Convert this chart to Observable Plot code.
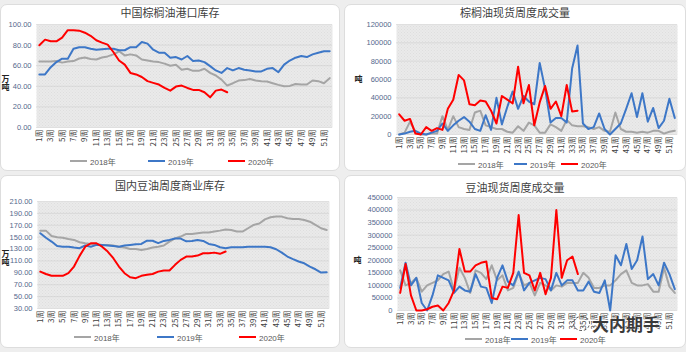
<!DOCTYPE html>
<html><head><meta charset="utf-8">
<script src="https://cdn.jsdelivr.net/npm/d3@7"></script>
<script src="https://cdn.jsdelivr.net/npm/@observablehq/plot@0.6"></script>
<style>
html,body{margin:0;padding:0;}
body{background:#eeeeee;width:686px;height:352px;overflow:hidden;position:relative;font-family:"Liberation Sans","Noto Sans CJK SC",sans-serif;}
.card{position:absolute;background:#fff;border:1px solid #dddddd;border-radius:7px;box-sizing:border-box;}
.title{position:absolute;font-family:"Noto Sans CJK SC",sans-serif;font-size:11px;color:#404040;transform:translate(-50%,-50%);white-space:nowrap;}
.unit{position:absolute;font-family:"Noto Sans CJK SC",sans-serif;font-size:8px;font-weight:bold;color:#222;line-height:8px;writing-mode:vertical-rl;text-orientation:upright;}
.leg{position:absolute;font-size:8px;color:#595959;white-space:nowrap;transform:translateY(-50%);font-family:"Liberation Sans","Noto Sans CJK SC",sans-serif;}
.sw{position:absolute;height:2px;transform:translateY(-50%);}
svg.chart{position:absolute;overflow:visible;}
.wm{position:absolute;left:592px;top:311px;font-family:"Noto Sans CJK SC",sans-serif;font-weight:bold;font-size:17px;color:#3a3a3a;text-shadow:0 0 2px #fff,0 0 2px #fff;}
.wmicon{position:absolute;left:573px;top:316px;width:15px;height:13px;border:1.5px dashed #555;border-radius:50%;}
</style></head><body>
<script>
// ---------- data ----------
const weekTicks = d3.range(1, 52, 2);
const seriesNames = ["2018年", "2019年", "2020年"];
const seriesColors = ["#a5a5a5", "#3d77c7", "#ff0000"];

const titles = ["中国棕榈油港口库存", "棕榈油现货周度成交量", "国内豆油周度商业库存", "豆油现货周度成交量"];

// 中国棕榈油港口库存 (万吨)
const palmStock2018 = [64,64,64,64.5,63,64,64.5,67,68,66.5,66,68,69,71,74,70,71,70,66,65,64,63.5,62,60,61,56,57,55,55,57,53,50.5,46.5,40.7,43,45.6,46,47,45.6,45,44.6,43,41.4,40,40.4,42.3,41.7,41.7,45.6,45,43,47.9];
const palmStock2019 = [51.5,51.5,58.6,63.5,66.8,66.8,76.5,78,78,76.5,75.5,76,76.5,76.5,75,75,78,78,83,81.4,75.5,72.6,72.6,67.8,68.4,66,69.4,64.5,65,63.5,59.6,55.4,53,57.7,55.4,57.7,56,55.4,54.4,54.4,57,57.7,53.7,61,65,67.8,69.4,68.4,71,72.6,74,74];
const palmStock2020 = [79.8,85.3,83.7,83.7,87.3,94.5,94.5,94,92,89,84.7,82.4,80.5,73.3,65,61,53,51.5,49,45,43.3,41.7,38.4,35.8,39.7,40.7,38.4,36.5,36.5,34.2,29.3,35.8,36.8,34.2];
const palmStockTicks = [0,20,40,60,80,100];

// 棕榈油现货周度成交量 (吨)
const palmVol2018 = [0,2000,14000,3000,0,0,1000,1000,20000,5000,20000,8000,6000,5000,24000,26000,10000,8000,6000,6000,3000,2000,9000,4000,13000,10000,2000,2000,11000,8000,4000,16000,10000,9000,9000,8000,6000,8000,4000,3000,24000,6000,3000,3000,2000,3000,2000,4000,4000,1000,3000,4000];
const palmVol2019 = [0,1000,3000,4000,1000,0,2000,4000,12000,4000,10000,15000,19000,14000,6000,4000,21000,5000,40000,11000,30000,47000,28000,42000,36000,33000,78000,50000,13000,18000,18000,13000,72000,97000,12000,6000,8000,23000,6000,0,6000,12000,28000,45000,19000,45000,14000,29000,7000,15000,39000,18000];
const palmVol2020 = [22000,15000,17000,1000,0,8000,4000,7000,5000,28000,38000,65000,59000,33000,32000,37000,36000,26000,12000,42000,38000,34000,74000,34000,54000,10000,35000,53000,28000,36000,20000,54000,25000,26000];
const palmVolTicks = [0,20000,40000,60000,80000,100000,120000];

// 国内豆油周度商业库存 (万吨)
const soyStock2018 = [161,161,152,150,149,147,145.4,141.4,139.8,138.6,138.6,137,137,136,134,132.5,130,130,128.6,130,132.5,134,136,142.6,148,151,155.4,155.4,156.6,157.7,157.7,159.4,161,163,162,159.4,159.4,165,170.6,173,180,183.4,184.6,184.6,181.8,180.6,180.6,179,176,170.6,165,162];
const soyStock2019 = [156.6,149,142.6,135,134,134,132.5,131.4,136,134,137,137,136,135,134,136,137,138,138.6,144,144,140,143.7,145.4,147.6,147.6,143,143.7,145.4,143.7,138.6,137,133,131.4,133,133,133,134,134,134,134,133,129.7,124,117.4,113,109,106,100.6,96,90.5,91];
const soyStock2020 = [92,88,85,85,85,89.4,100.6,118.5,134,139.8,139.8,134,125.8,114.6,100.6,89.4,82.6,81,85,86.6,88,92,94,94,103.4,111.8,117.4,117.4,119,123,123,124,122,125.8];
const soyStockTicks = [30,50,70,90,110,130,150,170,190,210];

// 豆油现货周度成交量 (吨)
const soyVol2018 = [160000,100000,110000,130000,75000,100000,110000,120000,145000,155000,80000,170000,130000,70000,160000,150000,125000,180000,120000,140000,80000,90000,150000,100000,110000,60000,110000,100000,80000,100000,95000,110000,110000,110000,150000,130000,90000,90000,100000,100000,120000,145000,160000,110000,100000,100000,105000,75000,75000,170000,95000,70000];
const soyVol2019 = [90000,190000,100000,130000,30000,0,60000,140000,130000,120000,70000,95000,80000,75000,145000,95000,90000,30000,130000,180000,115000,100000,155000,80000,110000,120000,130000,125000,80000,150000,100000,120000,120000,80000,80000,115000,75000,70000,120000,0,220000,180000,265000,165000,200000,295000,125000,145000,100000,190000,145000,85000];
const soyVol2020 = [70000,185000,60000,0,0,5000,15000,20000,0,30000,80000,245000,155000,155000,180000,190000,195000,50000,45000,95000,90000,150000,380000,150000,140000,80000,150000,65000,130000,400000,130000,200000,215000,145000];
const soyVolTicks = [0,50000,100000,150000,200000,250000,300000,350000,400000,450000];

// ---------- layout ----------
const panels = [
  {id:"h1", title:titles[0], card:{x:0,y:4,w:340,h:167}, plot:{left:36,right:332,top:24,bottom:127}, titleY:12,
   unit:"万吨", unitX:1, unitY:75, yDomain:[0,100], yTicks:palmStockTicks, yFmt:d=>d.toFixed(2),
   data:[palmStock2018,palmStock2019,palmStock2020], legendY:161, legend:[[70,90],[148,168],[228,248]]},
  {id:"h2", title:titles[1], card:{x:344,y:4,w:342,h:167}, plot:{left:396,right:677,top:24,bottom:134}, titleY:12,
   unit:"吨", unitX:354, unitY:75, yDomain:[0,120000], yTicks:palmVolTicks, yFmt:d=>String(d),
   data:[palmVol2018,palmVol2019,palmVol2020], legendY:164, legend:[[458,478],[514,530],[561,581]]},
  {id:"h3", title:titles[2], card:{x:0,y:175,w:340,h:173}, plot:{left:37,right:329,top:201,bottom:308}, titleY:185,
   unit:"万吨", unitX:1, unitY:250, yDomain:[30,210], yTicks:soyStockTicks, yFmt:d=>d.toFixed(2),
   data:[soyStock2018,soyStock2019,soyStock2020], legendY:337, legend:[[74,94],[157,177],[239,259]]},
  {id:"h4", title:titles[3], card:{x:344,y:175,w:342,h:173}, plot:{left:397,right:677,top:197,bottom:310}, titleY:187,
   unit:"吨", unitX:353, unitY:256, yDomain:[0,450000], yTicks:soyVolTicks, yFmt:d=>String(d),
   data:[soyVol2018,soyVol2019,soyVol2020], legendY:339, legend:[[465,485],[511,531],[560,580]]}
];

function el(cls, style, text) {
  const e = document.createElement("div");
  e.className = cls;
  Object.assign(e.style, style);
  if (text != null) e.textContent = text;
  document.body.appendChild(e);
  return e;
}

for (const p of panels) {
  el("card", {left:p.card.x+"px", top:p.card.y+"px", width:p.card.w+"px", height:p.card.h+"px"});
}

for (const p of panels) {
  const mt = 10, mb = 26;
  const svgTop = p.plot.top - mt;
  const height = p.plot.bottom + mb - svgTop;
  const chart = Plot.plot({
    width: p.card.w,
    height,
    marginLeft: p.plot.left - p.card.x,
    marginRight: p.card.x + p.card.w - p.plot.right,
    marginTop: mt,
    marginBottom: mb,
    style: {background: "transparent", fontFamily: "'Liberation Sans','Noto Sans CJK SC',sans-serif", fontSize: "8px"},
    x: {domain: [0.5, 52.5], axis: null},
    y: {domain: p.yDomain, axis: null},
    marks: [
      Plot.frame({fill: `url(#${p.id})`, stroke: "none"}),
      Plot.gridY(p.yTicks, {stroke: "#cccccc", strokeOpacity: 0.5}),
      Plot.axisY(p.yTicks, {tickSize: 0, tickPadding: 5, tickFormat: p.yFmt, color: "#55698c", label: null, fontSize: 7.5}),
      Plot.axisX(weekTicks, {tickSize: 0, tickPadding: 2, tickRotate: -90, tickFormat: d => d + "周", color: "#404040", label: null, fontSize: 8, fontFamily: "'Noto Sans CJK SC',sans-serif"}),
      ...p.data.map((vals, k) => Plot.line(vals, {x: (d, i) => i + 1, y: d => d, stroke: seriesColors[k], strokeWidth: 2}))
    ]
  });
  chart.classList.add("chart");
  chart.style.left = p.card.x + "px";
  chart.style.top = svgTop + "px";
  const defs = d3.select(chart).insert("defs", ":first-child");
  const pat = defs.append("pattern").attr("id", p.id).attr("width", 3).attr("height", 3).attr("patternUnits", "userSpaceOnUse");
  pat.append("rect").attr("width", 3).attr("height", 3).attr("fill", "#f5f5f5");
  pat.append("path").attr("d", "M0,3L3,0M0,0L3,3").attr("stroke", "#cfcfcf").attr("stroke-width", 0.6);
  document.body.appendChild(chart);

  el("title", {left:(p.card.x + p.card.w/2)+"px", top:p.titleY+"px"}, p.title);
  el("unit", {left:p.unitX+"px", top:p.unitY+"px"}, p.unit);
  p.legend.forEach(([sx, tx], k) => {
    el("sw", {left:sx+"px", top:p.legendY+"px", width:(tx - sx - 3)+"px", background:seriesColors[k]});
    el("leg", {left:tx+"px", top:p.legendY+"px"}, seriesNames[k]);
  });
}
el("wmicon", {});
el("wm", {}, "大内期手");
</script>
</body></html>
